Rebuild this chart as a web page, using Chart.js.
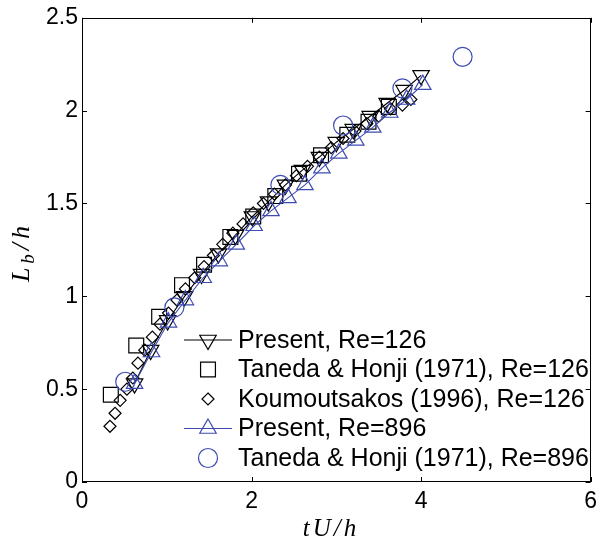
<!DOCTYPE html>
<html><head><meta charset="utf-8">
<script src="https://cdn.jsdelivr.net/npm/chart.js@4/dist/chart.umd.min.js"></script>
<style>html,body{margin:0;padding:0;background:#fff;}#wrap{width:603px;height:541px;}</style>
</head><body><div id="wrap"><canvas id="c" width="603" height="541"></canvas></div>
<script>
// ---- data ----
const present126X = [0.62, 0.81, 1.01, 1.21, 1.41, 1.61, 1.81, 2.01, 2.20, 2.40, 2.60, 2.80, 3.00, 3.20, 3.40, 3.60, 3.80, 4.00];
const present126Y = [0.53, 0.71, 0.87, 1.00, 1.12, 1.23, 1.33, 1.43, 1.51, 1.60, 1.68, 1.75, 1.83, 1.90, 1.97, 2.04, 2.11, 2.19];

const taneda126X = [0.34, 0.64, 0.91, 1.18, 1.44, 1.75, 2.02, 2.28, 2.56, 2.82, 3.13, 3.38, 3.62];
const taneda126Y = [0.47, 0.735, 0.89, 1.06, 1.17, 1.32, 1.43, 1.54, 1.66, 1.76, 1.87, 1.94, 2.02];

const koumoutsakosX = [0.33, 0.39, 0.45, 0.53, 0.60, 0.66, 0.74, 0.83, 0.92, 1.02, 1.12, 1.22, 1.33, 1.44, 1.55, 1.66, 1.78, 1.90, 2.02, 2.14, 2.27, 2.40, 2.53, 2.66, 2.80, 2.94, 3.08, 3.22, 3.36, 3.50, 3.64, 3.78, 3.88];
const koumoutsakosY = [0.30, 0.37, 0.44, 0.50, 0.56, 0.64, 0.71, 0.78, 0.85, 0.91, 0.98, 1.04, 1.10, 1.16, 1.22, 1.28, 1.34, 1.39, 1.45, 1.50, 1.55, 1.60, 1.65, 1.70, 1.75, 1.80, 1.85, 1.89, 1.93, 1.97, 2.01, 2.03, 2.06];

const present896X = [0.62, 0.82, 1.02, 1.22, 1.43, 1.62, 1.82, 2.03, 2.23, 2.43, 2.63, 2.83, 3.03, 3.23, 3.43, 3.63, 3.83, 4.02];
const present896Y = [0.53, 0.70, 0.86, 0.98, 1.10, 1.19, 1.28, 1.38, 1.46, 1.53, 1.60, 1.69, 1.77, 1.84, 1.91, 1.99, 2.06, 2.14];

const taneda896X = [0.51, 1.09, 2.34, 3.08, 3.78, 4.49];
const taneda896Y = [0.54, 0.94, 1.60, 1.92, 2.12, 2.29];

const seriesLabels = [
  'Present, Re=126',
  'Taneda & Honji (1971), Re=126',
  'Koumoutsakos (1996), Re=126',
  'Present, Re=896',
  'Taneda & Honji (1971), Re=896'
];
const xTicks = [0, 2, 4, 6];
const yTicks = [0, 0.5, 1, 1.5, 2, 2.5];
const xTitle = 'tU/h';
const yTitleParts = ['L', 'b', '/h'];

// ---- styling ----
const BLUE = 'rgb(62,76,178)';
const BLACK = '#000';
const pts = (xs, ys) => xs.map((x, i) => ({x: x, y: ys[i]}));

const marker = [
  {style: 'triangle', rot: 180, r: 9.5, color: BLACK, line: true},
  {style: 'rect', rot: 0, r: 10.5, color: BLACK, line: false},
  {style: 'rectRot', rot: 0, r: 6, color: BLACK, line: false},
  {style: 'triangle', rot: 0, r: 9.5, color: BLUE, line: true},
  {style: 'circle', rot: 0, r: 9.5, color: BLUE, line: false}
];
const dataPairs = [
  [present126X, present126Y],
  [taneda126X, taneda126Y],
  [koumoutsakosX, koumoutsakosY],
  [present896X, present896Y],
  [taneda896X, taneda896Y]
];
const orders = [4, 3, 2, 1, 0];

const datasets = dataPairs.map((p, i) => ({
  label: seriesLabels[i],
  data: pts(p[0], p[1]),
  showLine: marker[i].line,
  borderColor: marker[i].color,
  borderWidth: 1.1,
  pointStyle: marker[i].style,
  pointRotation: marker[i].rot,
  pointRadius: marker[i].r,
  pointHoverRadius: marker[i].r,
  pointBackgroundColor: 'rgba(0,0,0,0)',
  pointBorderColor: marker[i].color,
  pointBorderWidth: 1.2,
  fill: false,
  order: orders[i]
}));

function drawMarker(ctx, m, x, y) {
  ctx.save();
  ctx.strokeStyle = m.color;
  ctx.lineWidth = 1.2;
  ctx.beginPath();
  const r = m.r;
  if (m.style === 'circle') {
    ctx.arc(x, y, r, 0, Math.PI * 2);
  } else if (m.style === 'rect') {
    const s = r * Math.SQRT1_2;
    ctx.rect(x - s, y - s, 2 * s, 2 * s);
  } else if (m.style === 'rectRot') {
    ctx.moveTo(x, y - r); ctx.lineTo(x + r, y); ctx.lineTo(x, y + r); ctx.lineTo(x - r, y); ctx.closePath();
  } else if (m.style === 'triangle') {
    const rad = m.rot * Math.PI / 180;
    for (let k = 0; k < 3; k++) {
      const a = rad + k * 2 * Math.PI / 3;
      const px = x + Math.sin(a) * r, py = y - Math.cos(a) * r;
      if (k === 0) ctx.moveTo(px, py); else ctx.lineTo(px, py);
    }
    ctx.closePath();
  }
  ctx.stroke();
  ctx.restore();
}

const decor = {
  id: 'decor',
  afterDraw(chart) {
    const ctx = chart.ctx;
    const a = chart.chartArea;
    const xs = chart.scales.x, ys = chart.scales.y;
    ctx.save();
    ctx.strokeStyle = '#000';
    ctx.lineWidth = 1;
    // frame
    ctx.strokeRect(Math.round(a.left) + 0.5, Math.round(a.top) + 0.5, Math.round(a.right - a.left) - 1, Math.round(a.bottom - a.top) - 1);
    // inward ticks
    const L = 5;
    ctx.beginPath();
    xTicks.forEach(v => {
      const px = Math.round(xs.getPixelForValue(v)) + 0.5;
      ctx.moveTo(px, a.bottom); ctx.lineTo(px, a.bottom - L);
      ctx.moveTo(px, a.top); ctx.lineTo(px, a.top + L);
    });
    yTicks.forEach(v => {
      const py = Math.round(ys.getPixelForValue(v)) + 0.5;
      ctx.moveTo(a.left, py); ctx.lineTo(a.left + L, py);
      ctx.moveTo(a.right, py); ctx.lineTo(a.right - L, py);
    });
    ctx.stroke();

    // legend
    const rowY0 = 340, rowDY = 29.5;
    const lineX0 = 184, lineX1 = 232, mx = 208, tx = 238;
    ctx.font = '25px "Liberation Sans", Arial, sans-serif';
    ctx.textBaseline = 'middle';
    ctx.textAlign = 'left';
    seriesLabels.forEach((lab, i) => {
      const y = rowY0 + i * rowDY;
      const m = marker[i];
      if (m.line) {
        ctx.beginPath();
        ctx.strokeStyle = m.color;
        ctx.lineWidth = 1.1;
        ctx.moveTo(lineX0, y); ctx.lineTo(lineX1, y);
        ctx.stroke();
      }
      drawMarker(ctx, m, mx, y);
      ctx.fillStyle = '#000';
      ctx.fillText(lab, tx, y + 1);
    });

    // x title
    ctx.font = 'italic 25px "Liberation Serif", "Times New Roman", serif';
    ctx.letterSpacing = '3px';
    ctx.textAlign = 'center';
    ctx.fillStyle = '#000';
    ctx.fillText(xTitle, 331, 529);

    // y title (rotated)
    ctx.save();
    ctx.translate(21, 252);
    ctx.rotate(-Math.PI / 2);
    ctx.letterSpacing = '4px';
    const fBig = 'italic 26px "Liberation Serif", "Times New Roman", serif';
    const fSmall = 'italic 19px "Liberation Serif", "Times New Roman", serif';
    ctx.font = fBig; const w0 = ctx.measureText(yTitleParts[0]).width;
    ctx.font = fSmall; const w1 = ctx.measureText(yTitleParts[1]).width;
    ctx.font = fBig; const w2 = ctx.measureText(yTitleParts[2]).width;
    let x = -(w0 + w1 + w2) / 2;
    ctx.textAlign = 'left';
    ctx.textBaseline = 'alphabetic';
    ctx.font = fBig; ctx.fillText(yTitleParts[0], x, 8); x += w0;
    ctx.font = fSmall; ctx.fillText(yTitleParts[1], x, 13); x += w1;
    ctx.font = fBig; ctx.fillText(yTitleParts[2], x, 8);
    ctx.restore();

    ctx.restore();
  }
};

const tickFont = {family: '"Liberation Sans", Arial, sans-serif', size: 23};

new Chart(document.getElementById('c'), {
  type: 'scatter',
  data: {datasets: datasets},
  options: {
    responsive: false,
    animation: false,
    layout: {padding: {top: 14, right: 7, left: 0, bottom: 0}},
    plugins: {legend: {display: false}, tooltip: {enabled: false}},
    scales: {
      x: {
        type: 'linear', min: 0, max: 6,
        afterBuildTicks: s => { s.ticks = xTicks.map(v => ({value: v})); },
        afterFit: s => { s.height = 59; },
        grid: {display: false, drawTicks: false},
        border: {display: false},
        ticks: {color: '#000', padding: 6, maxRotation: 0, font: tickFont, callback: v => String(v)}
      },
      y: {
        type: 'linear', min: 0, max: 2.5,
        afterBuildTicks: s => { s.ticks = yTicks.map(v => ({value: v})); },
        afterFit: s => { s.width = 82; },
        grid: {display: false, drawTicks: false},
        border: {display: false},
        ticks: {color: '#000', padding: 4, font: tickFont, callback: v => String(v)}
      }
    }
  },
  plugins: [decor]
});
</script>
</body></html>
